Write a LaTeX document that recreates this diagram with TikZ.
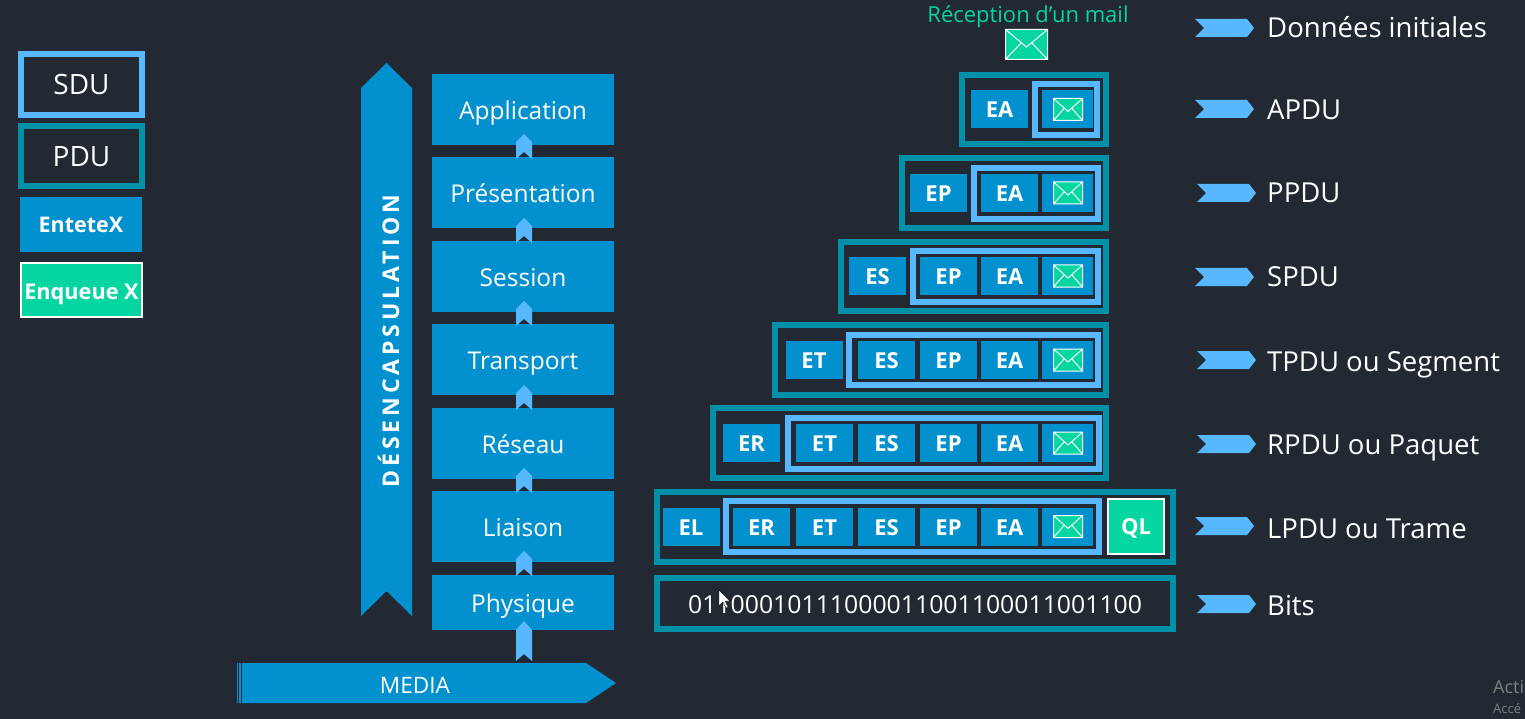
\documentclass[tikz,border=0pt]{standalone}
\usepackage{fontspec}
\setmainfont{Open Sans}
\usepackage{tikz}
\definecolor{bgdark}{RGB}{34,41,51}
\definecolor{headblue}{RGB}{2,145,206}
\definecolor{sdublue}{RGB}{87,184,255}
\definecolor{pduteal}{RGB}{0,144,168}
\definecolor{tailgreen}{RGB}{5,214,161}

\begin{document}
\begin{tikzpicture}[x=1pt,y=-1pt]
\tikzstyle{pdu} = [draw=pduteal,line width=6pt,inner sep=0pt,font=\fontsize{28}{32}\selectfont,text=white]
\tikzstyle{sdu} = [draw=sdublue,line width=6pt,inner sep=0pt,font=\fontsize{28}{32}\selectfont,text=white]
\tikzstyle{layer} = [fill=headblue,inner sep=0pt,minimum width=182pt,minimum height=71pt,text=white,text height=20pt,text depth=0pt,font=\fontsize{24.5}{30}\selectfont]
\tikzstyle{head} = [fill=headblue,inner sep=0pt,minimum width=57pt,minimum height=38pt,text=white,text height=17pt,text depth=0pt,font=\bfseries\fontsize{22}{26}\selectfont]
\tikzstyle{lab} = [anchor=west,inner sep=0pt,text=white,text height=20pt,text depth=0pt,font=\fontsize{27.5}{32}\selectfont]
\tikzstyle{icon} = [fill=tailgreen,draw=white,line width=1pt]

\useasboundingbox (0,0) rectangle (1525,719);
\fill[bgdark] (0,0) rectangle (1525,719);

% legend
\node[sdu,minimum width=121pt,minimum height=61pt] (legsdu) at (81.5,84.5) {SDU};
\node[pdu,minimum width=121pt,minimum height=60pt] (legpdu) at (81.5,156.5) {PDU};
\node[fill=headblue,inner sep=0pt,minimum width=122pt,minimum height=55pt,text=white,font=\bfseries\fontsize{21.5}{25}\selectfont] (legent) at (81,225) {EnteteX};
\node[fill=tailgreen,draw=white,line width=2pt,inner sep=0pt,minimum width=121pt,minimum height=54pt,text=white,text height=18pt,text depth=0pt,font=\bfseries\fontsize{21.7}{25}\selectfont] (legenq) at (81.5,290) {Enqueue X};

% big arrows
\fill[headblue] (361,88) -- ++(25.5,-25) -- ++(25.5,25) -- (412,616) -- ++(-25.5,-25) -- ++(-25.5,25) -- cycle;
\node[rotate=90,inner sep=0pt,text=white,font=\bfseries\fontsize{23}{27}\selectfont\addfontfeatures{LetterSpace=17}] (desenc) at (388.5,341) {DÉSENCAPSULATION};
\fill[headblue] (237,663) -- (586,663) -- ++(30,20) -- ++(-30,20) -- (237,703) -- cycle;
\draw[bgdark,line width=0.6pt] (238.7,663) -- ++(0,40) (241,663) -- ++(0,40);
\node[inner sep=0pt,text=white,font=\fontsize{22.6}{26}\selectfont] (media) at (415,685.5) {MEDIA};

% layers
\node[layer] (app) at (523,109.5) {Application};
\node[layer] (pres) at (523,192.5) {Présentation};
\node[layer] (sess) at (523,276.5) {Session};
\node[layer] (trans) at (523,359.5) {Transport};
\node[layer] (res) at (523,443.5) {Réseau};
\node[layer] (liai) at (523,526.5) {Liaison};
\node[layer,minimum height=55pt] (phys) at (523,602.5) {Physique};

\foreach \y in {134, 218, 301, 385, 468, 551} {
\fill[sdublue] (516,\y+8) -- ++(8,-8) -- ++(8,8) -- ++(0,17) -- ++(-8,-7) -- ++(-8,7) -- cycle;
}
\fill[sdublue] (516,630) -- ++(8,-9) -- ++(8,9) -- ++(0,31) -- ++(-8,-7) -- ++(-8,7) -- cycle;

% top mail
\node[inner sep=0pt,text=tailgreen,text height=15.4pt,text depth=0pt,font=\fontsize{22}{26}\selectfont] (recept) at (1028,15) {Réception d’un mail};
\draw[icon] (1005.5,29.5) rectangle (1047.5,59.5) (1005.5,29.5) -- (1026.5,47) -- (1047.5,29.5) (1005.5,59.5) -- (1021,43) (1047.5,59.5) -- (1032,43);

% pdu frames
\node[pdu,minimum width=144pt,minimum height=69pt] (apdu) at (1034,109.5) {};
\node[pdu,minimum width=204pt,minimum height=70pt] (ppdu) at (1004,193) {};
\node[pdu,minimum width=265pt,minimum height=69pt] (spdu) at (973.5,276.5) {};
\node[pdu,minimum width=331pt,minimum height=70pt] (tpdu) at (940.5,360) {};
\node[pdu,minimum width=393pt,minimum height=70pt] (rpdu) at (909.5,443) {};
\node[pdu,minimum width=516pt,minimum height=70pt] (lpdu) at (915,527) {};
\node[pdu,minimum width=516pt,minimum height=51pt,text height=19.6pt,text depth=0pt,font=\fontsize{24.8}{29}\selectfont] (bits) at (915,603.5) {01100010111000011001100011001100};

% sdu frames
\node[sdu,minimum width=62pt,minimum height=51pt] (asdu) at (1066,109.5) {};
\node[sdu,minimum width=124pt,minimum height=51pt] (psdu) at (1036,193.5) {};
\node[sdu,minimum width=185pt,minimum height=51pt] (ssdu) at (1005.5,276.5) {};
\node[sdu,minimum width=249pt,minimum height=50pt] (tsdu) at (973.5,360) {};
\node[sdu,minimum width=311pt,minimum height=51pt] (rsdu) at (943.5,443.5) {};
\node[sdu,minimum width=373pt,minimum height=51pt] (lsdu) at (912.5,526.5) {};

% headers
\node[head] (aea) at (999.5,109.5) {EA};

\node[head] (pep) at (938.5,193) {EP};
\node[head] (pea) at (1009.5,193) {EA};

\node[head] (ses) at (877.5,276) {ES};
\node[head] (sep) at (948.5,276) {EP};
\node[head] (sea) at (1009.5,276) {EA};

\node[head] (tet) at (814,360) {ET};
\node[head] (tes) at (886.5,360) {ES};
\node[head] (tep) at (948.5,360) {EP};
\node[head] (tea) at (1009.5,360) {EA};

\node[head] (ret) at (751.5,443) {ER};
\node[head] (rtt) at (824.5,443) {ET};
\node[head] (res2) at (886.5,443) {ES};
\node[head] (rep) at (948.5,443) {EP};
\node[head] (rea) at (1009.5,443) {EA};

\node[head] (lel) at (691,526.5) {EL};
\node[head] (ler) at (761.5,526.5) {ER};
\node[head] (let) at (824.5,526.5) {ET};
\node[head] (les) at (886.5,526.5) {ES};
\node[head] (lep) at (948.5,526.5) {EP};
\node[head] (lea) at (1009.5,526.5) {EA};

\node[fill=tailgreen,draw=white,line width=2pt,inner sep=0pt,minimum width=56pt,minimum height=55pt,text=white,text height=16pt,text depth=0pt,font=\bfseries\fontsize{22}{26}\selectfont] (lql) at (1136,526.5) {QL};

% mails in the frames
\foreach \y in {109.5, 193, 276, 360, 443, 526.5} {
\node[head,minimum width=51pt] at (1067.5,\y) {};
\draw[icon] (1053.5,\y-11) rectangle (1082.5,\y+11) (1053.5,\y-11) -- (1068,\y+2) -- (1082.5,\y-11) (1053.5,\y+11) -- (1064,\y-1) (1082.5,\y+11) -- (1072,\y-1);
}

% right chevrons
\foreach \x/\y in {1195/19, 1195/100, 1197/184, 1195/268, 1197/351, 1197/435, 1195/517, 1197/595} {
\fill[sdublue] (\x,\y) -- ++(52,0) -- ++(7,9) -- ++(-7,9) -- ++(-52,0) -- ++(9,-9) -- cycle;
}

% right labels
\node[lab] (ldon) at (1267,28) {Données initiales};
\node[lab] (lapdu) at (1267,110) {APDU};
\node[lab] (lppdu) at (1267,193) {PPDU};
\node[lab] (lspdu) at (1267,277) {SPDU};
\node[lab] (ltpdu) at (1267,361) {TPDU ou Segment};
\node[lab] (lrpdu) at (1267,444) {RPDU ou Paquet};
\node[lab] (llpdu) at (1267,528) {LPDU ou Trame};
\node[lab] (lbits) at (1267,605) {Bits};

% cursor and watermark
\draw[fill=white,draw=black,line width=0.4pt] (719,590) -- ++(0,16) -- ++(4,-4) -- ++(3,6) -- ++(2,-1) -- ++(-3,-6) -- ++(5,0) -- cycle;
\node[anchor=west,inner sep=0pt,text=gray,font=\fontsize{18}{20}\selectfont] (wma) at (1493,687) {Acti};
\node[anchor=west,inner sep=0pt,text=gray,font=\fontsize{13}{15}\selectfont] (wmb) at (1493,709) {Accé};
\end{tikzpicture}
\end{document}
